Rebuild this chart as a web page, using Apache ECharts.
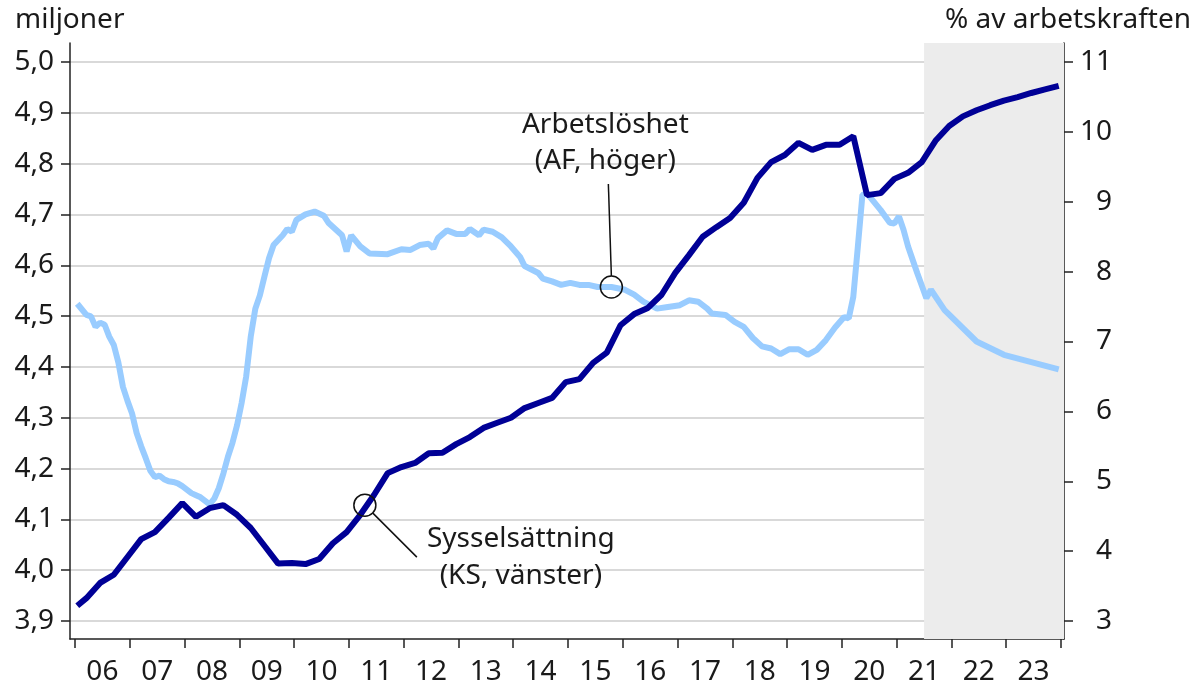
<!DOCTYPE html>
<html>
<head>
<meta charset="utf-8">
<script src="https://cdn.jsdelivr.net/npm/echarts@6/dist/echarts.min.js"></script>
<style>
  html, body { margin: 0; padding: 0; background: #fff; }
  #chartmain { width: 1196px; height: 686px; }
</style>
</head>
<body>
<div id="chartmain"></div>
<script>
// Sysselsättning (KS, vänster axel), miljoner
var ksDates = ['2006-01','2006-03','2006-06','2006-09','2006-12','2007-03','2007-06','2007-09','2007-12',
  '2008-03','2008-06','2008-09','2008-12','2009-03','2009-06','2009-09','2009-12','2010-03','2010-06',
  '2010-09','2010-12','2011-03','2011-06','2011-09','2011-12','2012-03','2012-06','2012-09','2012-12',
  '2013-03','2013-06','2013-09','2013-12','2014-03','2014-06','2014-09','2014-12','2015-03','2015-06',
  '2015-09','2015-12','2016-03','2016-06','2016-09','2016-12','2017-03','2017-06','2017-09','2017-12',
  '2018-03','2018-06','2018-09','2018-12','2019-03','2019-06','2019-09','2019-12','2020-03','2020-06',
  '2020-09','2020-12','2021-03','2021-06','2021-09','2021-12','2022-03','2022-06','2022-09','2022-12',
  '2023-03','2023-06','2023-09','2023-12'];
var ksValues = [3.930,3.945,3.975,3.991,4.026,4.061,4.075,4.103,4.132,
  4.105,4.122,4.128,4.109,4.083,4.048,4.013,4.014,4.012,4.022,
  4.053,4.075,4.109,4.148,4.191,4.203,4.211,4.230,4.231,4.248,
  4.262,4.280,4.290,4.300,4.319,4.329,4.339,4.370,4.376,4.408,
  4.428,4.482,4.504,4.516,4.542,4.585,4.620,4.656,4.675,4.693,
  4.723,4.772,4.803,4.817,4.841,4.827,4.837,4.837,4.854,4.738,
  4.742,4.770,4.782,4.803,4.845,4.874,4.893,4.905,4.915,4.924,
  4.931,4.939,4.946,4.953];

// Arbetslöshet (AF, höger axel), % av arbetskraften
var afDates = ['2006-01','2006-03','2006-04','2006-05','2006-06','2006-07','2006-08','2006-09','2006-10',
  '2006-11','2006-12','2007-01','2007-02','2007-03','2007-04','2007-05','2007-06','2007-07','2007-08',
  '2007-09','2007-10','2007-11','2007-12','2008-01','2008-02','2008-03','2008-04','2008-05','2008-06',
  '2008-07','2008-08','2008-09','2008-10','2008-11','2008-12','2009-01','2009-02','2009-03','2009-04',
  '2009-05','2009-06','2009-07','2009-08','2009-10','2009-11','2009-12','2010-01','2010-03','2010-05',
  '2010-07','2010-08','2010-11','2010-12','2011-01','2011-03','2011-05','2011-09','2011-12','2012-02',
  '2012-04','2012-06','2012-07','2012-08','2012-10','2012-12','2013-02','2013-03','2013-05','2013-06',
  '2013-08','2013-10','2013-12','2014-02','2014-03','2014-06','2014-07','2014-09','2014-11','2015-01',
  '2015-03','2015-05','2015-07','2015-10','2016-01','2016-03','2016-05','2016-08','2016-10','2017-01',
  '2017-03','2017-05','2017-07','2017-08','2017-11','2018-01','2018-03','2018-05','2018-07','2018-09',
  '2018-11','2019-01','2019-03','2019-05','2019-07','2019-09','2019-11','2020-01','2020-02','2020-03',
  '2020-04','2020-05','2020-06','2020-09','2020-11','2020-12','2021-01','2021-02','2021-03','2021-05',
  '2021-06','2021-07','2021-08','2021-11','2022-06','2022-12','2023-12'];
var afValues = [7.54,7.38,7.36,7.21,7.27,7.24,7.07,6.95,6.70,
  6.35,6.15,5.97,5.69,5.50,5.33,5.15,5.06,5.08,5.03,
  5.00,4.99,4.97,4.93,4.88,4.83,4.80,4.77,4.72,4.67,
  4.75,4.90,5.11,5.35,5.55,5.80,6.12,6.50,7.07,7.47,
  7.66,7.93,8.19,8.38,8.52,8.61,8.57,8.74,8.82,8.86,
  8.80,8.70,8.52,8.29,8.52,8.36,8.26,8.25,8.32,8.31,
  8.38,8.40,8.33,8.48,8.59,8.54,8.54,8.61,8.52,8.60,
  8.57,8.49,8.36,8.21,8.08,7.98,7.90,7.86,7.81,7.84,
  7.81,7.81,7.78,7.78,7.74,7.67,7.57,7.47,7.49,7.52,
  7.59,7.57,7.47,7.40,7.38,7.28,7.21,7.05,6.93,6.90,
  6.82,6.89,6.89,6.81,6.88,7.02,7.20,7.35,7.33,7.64,
  8.36,9.10,9.12,8.88,8.70,8.69,8.79,8.60,8.36,7.98,
  7.80,7.62,7.74,7.45,7.00,6.81,6.60];

var tickYears = [2006,2007,2008,2009,2010,2011,2012,2013,2014,2015,2016,2017,2018,2019,2020,2021,2022,2023,2024];
var yearLabels = ['06','07','08','09','10','11','12','13','14','15','16','17','18','19','20','21','22','23'];
var leftTicks = [3.9,4.0,4.1,4.2,4.3,4.4,4.5,4.6,4.7,4.8,4.9,5.0];
var rightTicks = [3,4,5,6,7,8,9,10,11];
var forecastStart = 2021.5;

var DARK = '#000096';
var LIGHT = '#99ccff';
var TXT = '#1a1a1a';
var FONT = 'Noto Sans';
var FS = 28;

function toYear(d) {
  var p = d.split('-');
  return +p[0] + (+p[1] - 0.5) / 12;
}
function pairs(dates, vals) {
  return dates.map(function (d, i) { return [toYear(d), vals[i]]; });
}

var myChart = echarts.init(document.getElementById('chartmain'));

// axis spans reach a bit beyond the first/last tick, as in the original
var leftMin = 3.9 - 18 / 508.2, leftMax = 5.0 + 19 / 508.2;
var rightMin = 3 - 18 / 69.875, rightMax = 11 + 19 / 69.875;

var option = {
  animation: false,
  textStyle: { fontFamily: FONT },
  grid: { left: 70, right: 132, top: 43, bottom: 47, containLabel: false, outerBoundsMode: 'none' },
  xAxis: {
    type: 'value',
    min: 2006 - 5 / 54.78,
    max: 2024 + 3 / 54.78,
    axisLine: { show: true, onZero: false, lineStyle: { color: '#222', width: 1.5 } },
    axisTick: { show: true, length: 9, lineStyle: { color: '#222', width: 1.5 }, customValues: tickYears },
    axisLabel: {
      customValues: yearLabels.map(function (l, i) { return tickYears[i] + 0.5; }),
      formatter: function (v) { return yearLabels[Math.floor(v) - 2006]; },
      color: TXT, fontSize: FS, fontFamily: FONT, margin: 19
    },
    splitLine: { show: false }
  },
  yAxis: [{
    type: 'value',
    position: 'left',
    min: leftMin, max: leftMax,
    axisLine: { show: true, lineStyle: { color: '#222', width: 1.5 } },
    axisTick: { show: true, length: 9, lineStyle: { color: '#222', width: 1.5 }, customValues: leftTicks },
    axisLabel: {
      customValues: leftTicks,
      formatter: function (v) { return v.toFixed(1).replace('.', ','); },
      color: TXT, fontSize: FS, fontFamily: FONT, margin: 16
    },
    splitLine: { show: true, lineStyle: { color: '#cccccc', width: 1.5 } }
  }, {
    type: 'value',
    position: 'right',
    min: rightMin, max: rightMax,
    axisLine: { show: true, lineStyle: { color: '#222', width: 1.5 } },
    axisTick: { show: true, length: 9, lineStyle: { color: '#222', width: 1.5 }, customValues: rightTicks },
    axisLabel: {
      customValues: rightTicks,
      align: 'right',
      color: TXT, fontSize: FS, fontFamily: FONT, margin: 48
    },
    splitLine: { show: false }
  }],
  series: [{
    name: 'Sysselsättning',
    type: 'line',
    yAxisIndex: 0,
    data: pairs(ksDates, ksValues),
    showSymbol: false,
    lineStyle: { color: DARK, width: 6 },
    markArea: {
      silent: true,
      itemStyle: { color: '#ececec' },
      data: [[{ xAxis: forecastStart }, { xAxis: 2024 + 3 / 54.78 }]]
    },
    z: 3
  }, {
    name: 'Arbetslöshet',
    type: 'line',
    yAxisIndex: 1,
    data: pairs(afDates, afValues),
    showSymbol: false,
    lineStyle: { color: LIGHT, width: 6 },
    z: 2
  }]
};

myChart.setOption(option);

// annotations: circles, leader lines and texts anchored on the lines
var af = myChart.convertToPixel({ xAxisIndex: 0, yAxisIndex: 1 }, [toYear('2015-10'), 7.78]);
var ks = myChart.convertToPixel({ xAxisIndex: 0, yAxisIndex: 0 }, [toYear('2011-04'), 4.128]);
var font = FS + 'px "' + FONT + '"';
var lineSt = { stroke: '#111', lineWidth: 1.5 };
var txtSt = function (s, x, y) {
  return { type: 'text', x: x, y: y, z: 100,
    style: { text: s, font: font, fill: TXT, align: 'center', verticalAlign: 'middle' } };
};
myChart.setOption({
  graphic: [
    { type: 'text', left: 15, top: 6, style: { text: 'miljoner', font: font, fill: TXT } },
    { type: 'text', right: 5, top: 6, style: { text: '% av arbetskraften', font: font, fill: TXT } },
    { type: 'circle', z: 100, shape: { cx: af[0], cy: af[1], r: 11 }, style: { fill: 'none', stroke: '#111', lineWidth: 1.5 } },
    { type: 'line', z: 100, shape: { x1: af[0], y1: af[1] - 11, x2: af[0] - 3, y2: af[1] - 103 }, style: lineSt },
    txtSt('Arbetslöshet', af[0] - 6, af[1] - 162),
    txtSt('(AF, höger)', af[0] - 6, af[1] - 126),
    { type: 'circle', z: 100, shape: { cx: ks[0], cy: ks[1], r: 11 }, style: { fill: 'none', stroke: '#111', lineWidth: 1.5 } },
    { type: 'line', z: 100, shape: { x1: ks[0] + 8, y1: ks[1] + 8, x2: ks[0] + 52, y2: ks[1] + 52 }, style: lineSt },
    txtSt('Sysselsättning', ks[0] + 156, ks[1] + 34),
    txtSt('(KS, vänster)', ks[0] + 156, ks[1] + 71)
  ]
});
</script>
</body>
</html>
